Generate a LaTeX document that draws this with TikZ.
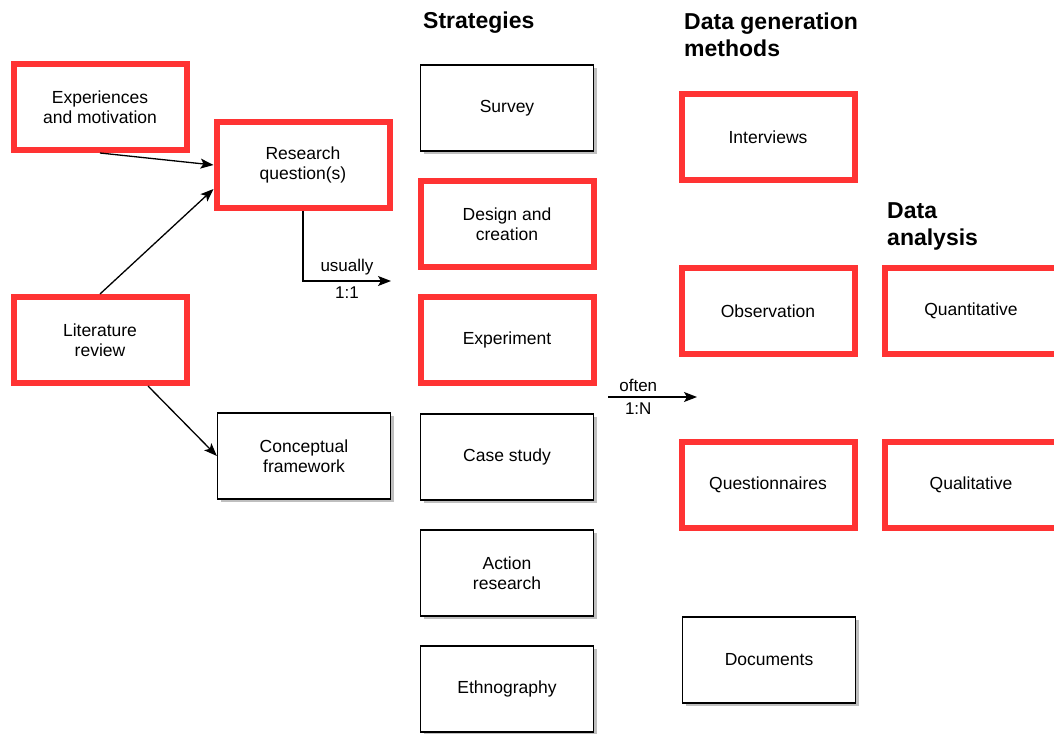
\documentclass[tikz,border=0pt]{standalone}
\usepackage{fontspec}
\setmainfont{Liberation Sans}
\usetikzlibrary{arrows.meta,shadows}
\definecolor{hired}{HTML}{FF3333}
\definecolor{shad}{HTML}{BFBFBF}
\tikzset{
  box/.style={draw=black, line width=1.2pt, fill=white, minimum width=173pt, minimum height=86pt,
    inner sep=0pt, align=center, font=\fontsize{17.5}{20}\selectfont,
    drop shadow={shadow xshift=3pt, shadow yshift=-3pt, fill=shad, opacity=1}},
  redbox/.style={box, draw=hired, line width=6pt},
  heading/.style={anchor=north west, align=left, inner sep=0pt, font=\bfseries\fontsize{23}{27}\selectfont},
  arr/.style={-{Stealth[length=13pt,width=10pt,inset=3pt]}, line width=1.3pt},
  lbl/.style={font=\fontsize{17}{20}\selectfont, inner sep=5pt}
}
\begin{document}
\begin{tikzpicture}[x=1pt,y=-1pt]
\clip (0,0) rectangle (1054,733);
\fill[white] (0,0) rectangle (1054,733);
% headings
\node[heading] (hs) at (423,12) {Strategies};
\node[heading] (hd) at (684,13) {Data generation\\methods};
\node[heading] (ha) at (887,202) {Data\\analysis};
% left boxes
\node[redbox] (exp) at (100,107) {Experiences\\and motivation};
\node[redbox] (rq) at (303,165) {Research\\question(s)};
\node[redbox] (lit) at (100,340) {Literature\\review};
\node[box] (cf) at (304,456) {Conceptual\\framework};
% strategies
\node[box] (sur) at (507,108) {Survey};
\node[redbox] (des) at (507,224) {Design and\\creation};
\node[redbox] (expm) at (507,340) {Experiment};
\node[box] (cs) at (507,457) {Case study};
\node[box] (ar) at (507,573) {Action\\research};
\node[box] (eth) at (507,689) {Ethnography};
% data generation
\node[redbox] (int) at (768,137) {Interviews};
\node[redbox] (obs) at (768,311) {Observation};
\node[redbox] (que) at (768,485) {Questionnaires};
\node[box] (doc) at (769,660) {Documents};
% data analysis
\node[redbox] (qn) at (971,311) {Quantitative};
\node[redbox] (ql) at (971,485) {Qualitative};
% connectors
\draw[arr] (exp.south) -- (rq.west);
\draw[arr] (lit.north) -- ([yshift=-24pt]rq.west);
\draw[arr] ([xshift=48pt]lit.south) -- (cf.west);
\coordinate (u) at (391,281);
\draw[arr] (rq.south) |- (u)
  node[lbl, pos=0.75, above] {usually}
  node[lbl, pos=0.75, below] {1:1};
\coordinate (o1) at (608,397);
\coordinate (o2) at (697,397);
\draw[arr] (o1) -- (o2)
  node[lbl, pos=0.34, above] {often}
  node[lbl, pos=0.34, below] {1:N};
\end{tikzpicture}
\end{document}
